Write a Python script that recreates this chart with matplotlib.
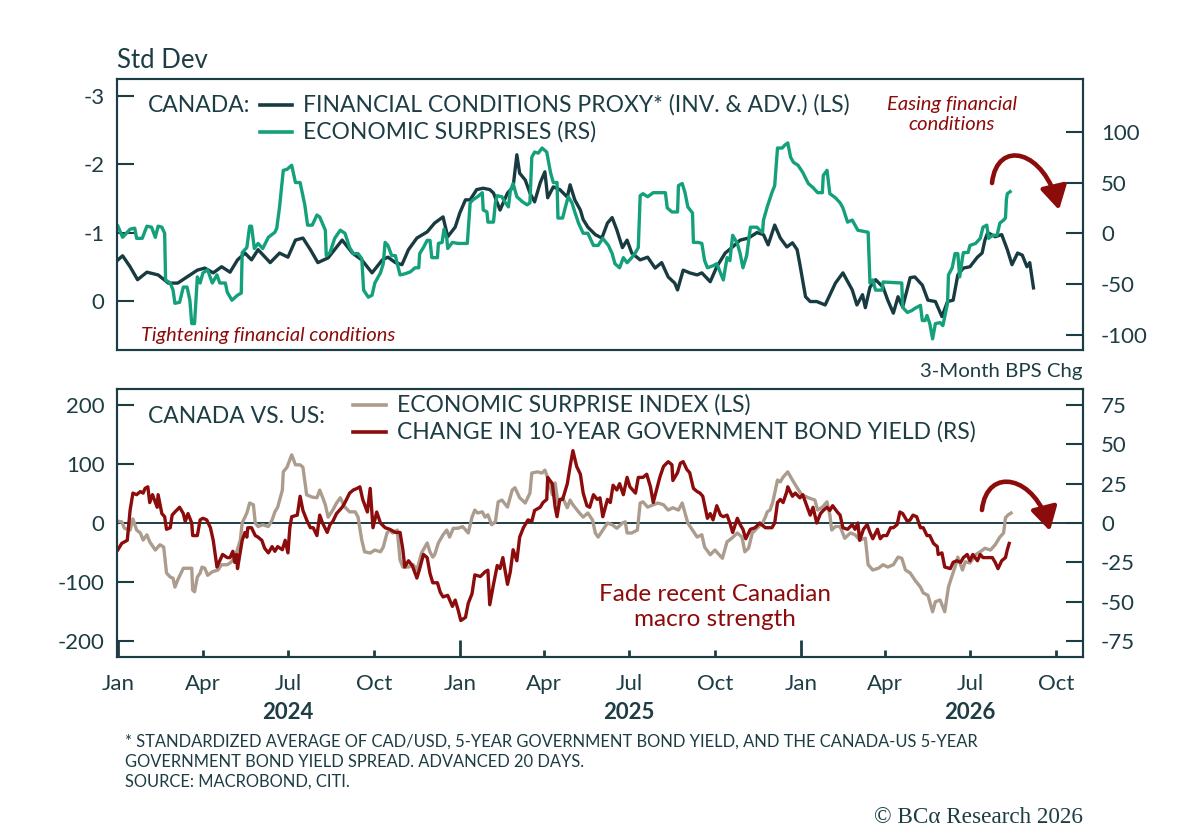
import matplotlib
matplotlib.use('Agg')
import matplotlib.pyplot as plt
import matplotlib.dates as mdates
from matplotlib.patches import FancyArrowPatch
from matplotlib.path import Path
from matplotlib.lines import Line2D
import pandas as pd

plt.rcParams['font.family'] = ['Lato', 'DejaVu Sans']
plt.rcParams['axes.unicode_minus'] = False

# ---------------- DATA ----------------
# Top panel, left scale (inverted): financial conditions proxy, std dev
fci_dates = [
    "2024-01-01", "2024-01-06", "2024-01-14", "2024-01-22", "2024-02-01", "2024-02-13", "2024-02-24",
    "2024-03-05", "2024-03-15", "2024-03-26", "2024-04-03", "2024-04-12", "2024-04-21", "2024-04-30",
    "2024-05-08", "2024-05-16", "2024-05-23", "2024-05-30", "2024-06-12", "2024-06-22", "2024-07-01",
    "2024-07-09", "2024-07-17", "2024-07-25", "2024-08-02", "2024-08-13", "2024-08-28", "2024-09-08",
    "2024-09-18", "2024-09-29", "2024-10-10", "2024-10-16", "2024-10-24", "2024-10-31", "2024-11-07",
    "2024-11-16", "2024-11-27", "2024-12-05", "2024-12-14", "2024-12-19", "2024-12-27", "2025-01-01",
    "2025-01-07", "2025-01-12", "2025-01-19", "2025-01-26", "2025-02-02", "2025-02-06", "2025-02-13",
    "2025-02-21", "2025-02-27", "2025-03-03", "2025-03-06", "2025-03-12", "2025-03-17", "2025-03-22",
    "2025-03-28", "2025-04-02", "2025-04-05", "2025-04-11", "2025-04-18", "2025-04-26", "2025-04-29",
    "2025-05-04", "2025-05-10", "2025-05-13", "2025-05-18", "2025-05-26", "2025-06-02", "2025-06-08",
    "2025-06-13", "2025-06-18", "2025-06-24", "2025-06-29", "2025-07-04", "2025-07-13", "2025-07-21",
    "2025-07-29", "2025-08-05", "2025-08-12", "2025-08-19", "2025-08-22", "2025-08-28", "2025-09-04",
    "2025-09-12", "2025-09-17", "2025-09-26", "2025-10-03", "2025-10-12", "2025-10-20", "2025-10-28",
    "2025-11-06", "2025-11-15", "2025-11-22", "2025-11-27", "2025-12-04", "2025-12-10", "2025-12-17",
    "2025-12-23", "2025-12-28", "2025-12-31", "2026-01-06", "2026-01-11", "2026-01-18", "2026-01-27",
    "2026-02-07", "2026-02-15", "2026-02-25", "2026-03-02", "2026-03-08", "2026-03-11", "2026-03-16",
    "2026-03-22", "2026-03-30", "2026-04-04", "2026-04-10", "2026-04-15", "2026-04-20", "2026-04-28",
    "2026-05-03", "2026-05-11", "2026-05-17", "2026-05-25", "2026-06-01", "2026-06-07", "2026-06-13",
    "2026-06-18", "2026-06-24", "2026-07-01", "2026-07-09", "2026-07-14", "2026-07-17", "2026-07-20",
    "2026-07-28", "2026-08-04", "2026-08-10", "2026-08-15", "2026-08-21", "2026-08-26", "2026-08-31",
    "2026-09-03", "2026-09-07",
]
fci_vals = [
    -0.60, -0.66, -0.50, -0.31, -0.42, -0.38, -0.26,
    -0.26, -0.35, -0.45, -0.48, -0.41, -0.50, -0.42,
    -0.60, -0.70, -0.60, -0.75, -0.56, -0.70, -0.64,
    -0.89, -0.92, -0.75, -0.56, -0.63, -0.89, -0.70,
    -0.60, -0.41, -0.60, -0.64, -0.56, -0.53, -0.75,
    -0.92, -1.01, -1.14, -1.23, -0.94, -1.08, -1.29,
    -1.48, -1.48, -1.63, -1.65, -1.63, -1.58, -1.33,
    -1.58, -1.67, -2.14, -1.87, -1.77, -1.58, -1.45,
    -1.73, -1.89, -1.51, -1.67, -1.63, -1.52, -1.70,
    -1.48, -1.33, -1.19, -1.08, -0.97, -0.92, -1.14,
    -1.22, -1.04, -0.78, -0.89, -0.70, -0.60, -0.64,
    -0.48, -0.56, -0.35, -0.26, -0.16, -0.45, -0.41,
    -0.38, -0.41, -0.28, -0.50, -0.70, -0.79, -0.89,
    -0.92, -1.00, -0.97, -0.82, -1.11, -0.92, -0.79,
    -0.85, -0.75, -0.53, -0.06, 0.01, 0.01, 0.06,
    -0.26, -0.41, -0.16, 0.06, -0.09, 0.10, -0.20,
    -0.31, -0.20, -0.01, 0.18, -0.06, 0.09, -0.34,
    -0.35, -0.23, -0.01, 0.01, 0.23, 0.01, -0.01,
    -0.38, -0.48, -0.50, -0.64, -0.70, -0.89, -1.00,
    -0.94, -0.97, -0.75, -0.53, -0.70, -0.67, -0.50,
    -0.56, -0.19,
]

# Top panel, right scale: Canada economic surprises
es_dates = [
    "2024-01-01", "2024-01-06", "2024-01-14", "2024-01-19", "2024-01-21", "2024-01-27", "2024-02-01",
    "2024-02-06", "2024-02-10", "2024-02-13", "2024-02-17", "2024-02-20", "2024-02-21", "2024-02-26",
    "2024-02-29", "2024-03-02", "2024-03-07", "2024-03-11", "2024-03-15", "2024-03-18", "2024-03-20",
    "2024-03-23", "2024-03-26", "2024-03-29", "2024-04-01", "2024-04-06", "2024-04-11", "2024-04-16",
    "2024-04-19", "2024-04-25", "2024-04-27", "2024-05-02", "2024-05-08", "2024-05-12", "2024-05-13",
    "2024-05-18", "2024-05-21", "2024-05-23", "2024-05-26", "2024-05-30", "2024-06-04", "2024-06-10",
    "2024-06-17", "2024-06-19", "2024-06-22", "2024-06-26", "2024-06-30", "2024-07-05", "2024-07-09",
    "2024-07-14", "2024-07-19", "2024-07-22", "2024-07-27", "2024-08-01", "2024-08-04", "2024-08-10",
    "2024-08-11", "2024-08-15", "2024-08-20", "2024-08-26", "2024-08-31", "2024-09-05", "2024-09-09",
    "2024-09-14", "2024-09-18", "2024-09-20", "2024-09-25", "2024-09-29", "2024-10-02", "2024-10-08",
    "2024-10-11", "2024-10-13", "2024-10-16", "2024-10-20", "2024-10-24", "2024-10-26", "2024-10-29",
    "2024-11-03", "2024-11-09", "2024-11-14", "2024-11-18", "2024-11-19", "2024-11-23", "2024-11-27",
    "2024-11-30", "2024-12-02", "2024-12-08", "2024-12-09", "2024-12-13", "2024-12-15", "2024-12-18",
    "2024-12-19", "2024-12-24", "2024-12-30", "2025-01-09", "2025-01-12", "2025-01-15", "2025-01-20",
    "2025-01-25", "2025-01-26", "2025-01-30", "2025-01-31", "2025-02-06", "2025-02-08", "2025-02-10",
    "2025-02-15", "2025-02-18", "2025-02-22", "2025-02-24", "2025-02-27", "2025-03-03", "2025-03-09",
    "2025-03-14", "2025-03-17", "2025-03-19", "2025-03-22", "2025-03-26", "2025-03-30", "2025-04-04",
    "2025-04-08", "2025-04-11", "2025-04-15", "2025-04-16", "2025-04-21", "2025-04-24", "2025-04-27",
    "2025-05-01", "2025-05-04", "2025-05-08", "2025-05-13", "2025-05-18", "2025-05-24", "2025-05-29",
    "2025-06-03", "2025-06-09", "2025-06-13", "2025-06-16", "2025-06-21", "2025-06-25", "2025-06-29",
    "2025-07-04", "2025-07-08", "2025-07-11", "2025-07-13", "2025-07-16", "2025-07-21", "2025-07-27",
    "2025-08-09", "2025-08-11", "2025-08-16", "2025-08-22", "2025-08-23", "2025-08-27", "2025-08-30",
    "2025-09-02", "2025-09-07", "2025-09-08", "2025-09-13", "2025-09-17", "2025-09-20", "2025-09-23",
    "2025-09-29", "2025-10-03", "2025-10-07", "2025-10-10", "2025-10-14", "2025-10-17", "2025-10-20",
    "2025-10-25", "2025-10-28", "2025-10-31", "2025-11-04", "2025-11-08", "2025-11-15", "2025-11-18",
    "2025-11-21", "2025-11-22", "2025-11-26", "2025-12-01", "2025-12-04", "2025-12-07", "2025-12-12",
    "2025-12-15", "2025-12-18", "2025-12-21", "2025-12-24", "2025-12-29", "2026-01-03", "2026-01-09",
    "2026-01-14", "2026-01-19", "2026-01-24", "2026-01-25", "2026-01-29", "2026-02-01", "2026-02-07",
    "2026-02-12", "2026-02-15", "2026-02-20", "2026-02-25", "2026-02-28", "2026-03-03", "2026-03-14",
    "2026-03-16", "2026-03-19", "2026-03-22", "2026-03-29", "2026-03-30", "2026-04-19", "2026-04-20",
    "2026-04-25", "2026-04-30", "2026-05-03", "2026-05-09", "2026-05-11", "2026-05-14", "2026-05-16",
    "2026-05-19", "2026-05-22", "2026-05-25", "2026-05-30", "2026-06-02", "2026-06-07", "2026-06-08",
    "2026-06-12", "2026-06-15", "2026-06-18", "2026-06-20", "2026-06-23", "2026-06-24", "2026-06-29",
    "2026-07-01", "2026-07-07", "2026-07-12", "2026-07-15", "2026-07-19", "2026-07-21", "2026-07-25",
    "2026-07-30", "2026-08-02", "2026-08-06", "2026-08-08", "2026-08-09", "2026-08-10", "2026-08-13",
]
es_vals = [
    7, -4, 4, 5, -5, -5, 7,
    6, -4, 7, 6, 0, -46, -49,
    -56, -69, -68, -53, -53, -66, -89,
    -89, -43, -49, -39, -36, -49, -41,
    -49, -49, -58, -66, -61, -59, -19,
    -14, 7, 7, -15, -10, -15, -4,
    1, 5, 26, 62, 63, 67, 50,
    50, 28, 8, 8, 18, 16, 3,
    -22, -19, -5, 3, 0, -14, -20,
    -20, -25, -56, -63, -61, -49, -39,
    -30, -9, -12, -22, -22, -30, -41,
    -40, -38, -34, -34, -20, -14, -7,
    -7, -24, -24, -10, -9, 4, -5,
    -15, -9, -10, -10, 30, 33, 36,
    40, 23, 21, 11, 11, 30, 37,
    36, 31, 26, 42, 49, 36, 31,
    28, 30, 75, 80, 79, 84, 80,
    60, 50, 50, 15, 15, 26, 36,
    30, 21, 10, 0, 0, -12, -12,
    -5, -12, -20, -30, -34, -24, -29,
    -24, -19, -14, 37, 39, 36, 40,
    40, 25, 21, 21, 47, 49, 40,
    26, 20, -9, -9, -10, -27, -34,
    -32, -30, -39, -46, -24, -27, -2,
    -10, -20, -34, -22, 6, 6, 3,
    1, 13, 26, 40, 47, 84, 84,
    87, 89, 75, 70, 67, 60, 49,
    45, 40, 40, 57, 62, 39, 35,
    30, 25, 11, 13, 8, 3, 1,
    -49, -46, -56, -56, -48, -49, -73,
    -78, -76, -74, -71, -86, -86, -81,
    -89, -104, -89, -88, -91, -69, -41,
    -34, -20, -20, -43, -24, -19, -19,
    -12, -10, -5, 6, 8, -5, -2,
    -2, 10, 13, 15, 33, 39, 41,
]

# Bottom panel, left scale: Canada vs US economic surprise index
esi_dates = [
    "2024-01-01", "2024-01-05", "2024-01-08", "2024-01-14", "2024-01-17", "2024-01-21", "2024-01-25",
    "2024-01-28", "2024-02-01", "2024-02-04", "2024-02-10", "2024-02-15", "2024-02-19", "2024-02-22",
    "2024-02-26", "2024-02-29", "2024-03-02", "2024-03-05", "2024-03-11", "2024-03-20", "2024-03-21",
    "2024-03-23", "2024-03-26", "2024-03-29", "2024-03-31", "2024-04-03", "2024-04-06", "2024-04-11",
    "2024-04-17", "2024-04-21", "2024-04-27", "2024-04-30", "2024-05-05", "2024-05-11", "2024-05-13",
    "2024-05-18", "2024-05-21", "2024-05-25", "2024-05-27", "2024-05-30", "2024-06-04", "2024-06-10",
    "2024-06-14", "2024-06-17", "2024-06-20", "2024-06-25", "2024-06-26", "2024-06-30", "2024-07-05",
    "2024-07-09", "2024-07-14", "2024-07-17", "2024-07-21", "2024-07-27", "2024-08-01", "2024-08-04",
    "2024-08-07", "2024-08-10", "2024-08-13", "2024-08-18", "2024-08-22", "2024-08-26", "2024-08-31",
    "2024-09-05", "2024-09-11", "2024-09-14", "2024-09-18", "2024-09-21", "2024-09-27", "2024-10-02",
    "2024-10-08", "2024-10-11", "2024-10-15", "2024-10-18", "2024-10-21", "2024-10-26", "2024-10-29",
    "2024-11-01", "2024-11-07", "2024-11-12", "2024-11-16", "2024-11-21", "2024-11-27", "2024-11-30",
    "2024-12-03", "2024-12-05", "2024-12-09", "2024-12-14", "2024-12-18", "2024-12-21", "2024-12-25",
    "2024-12-30", "2025-01-04", "2025-01-10", "2025-01-14", "2025-01-17", "2025-01-20", "2025-01-25",
    "2025-01-28", "2025-01-31", "2025-02-04", "2025-02-08", "2025-02-11", "2025-02-15", "2025-02-21",
    "2025-02-26", "2025-03-01", "2025-03-06", "2025-03-12", "2025-03-17", "2025-03-19", "2025-03-25",
    "2025-03-30", "2025-04-02", "2025-04-05", "2025-04-10", "2025-04-13", "2025-04-16", "2025-04-21",
    "2025-04-26", "2025-04-29", "2025-05-02", "2025-05-08", "2025-05-13", "2025-05-18", "2025-05-23",
    "2025-05-26", "2025-05-29", "2025-06-03", "2025-06-08", "2025-06-13", "2025-06-18", "2025-06-24",
    "2025-06-27", "2025-06-29", "2025-07-04", "2025-07-10", "2025-07-13", "2025-07-16", "2025-07-21",
    "2025-07-27", "2025-08-01", "2025-08-07", "2025-08-12", "2025-08-17", "2025-08-23", "2025-08-27",
    "2025-08-30", "2025-09-02", "2025-09-07", "2025-09-12", "2025-09-17", "2025-09-20", "2025-09-26",
    "2025-10-01", "2025-10-09", "2025-10-14", "2025-10-19", "2025-10-25", "2025-10-30", "2025-11-02",
    "2025-11-06", "2025-11-10", "2025-11-15", "2025-11-21", "2025-11-24", "2025-11-26", "2025-11-29",
    "2025-12-02", "2025-12-07", "2025-12-10", "2025-12-13", "2025-12-18", "2025-12-23", "2025-12-28",
    "2026-01-02", "2026-01-09", "2026-01-16", "2026-01-19", "2026-01-24", "2026-01-29", "2026-02-01",
    "2026-02-03", "2026-02-07", "2026-02-12", "2026-02-17", "2026-02-23", "2026-02-28", "2026-03-05",
    "2026-03-11", "2026-03-14", "2026-03-19", "2026-03-25", "2026-03-30", "2026-04-04", "2026-04-10",
    "2026-04-15", "2026-04-19", "2026-04-23", "2026-04-28", "2026-05-03", "2026-05-09", "2026-05-12",
    "2026-05-17", "2026-05-22", "2026-05-25", "2026-05-30", "2026-06-04", "2026-06-08", "2026-06-12",
    "2026-06-15", "2026-06-18", "2026-06-23", "2026-06-26", "2026-07-01", "2026-07-07", "2026-07-12",
    "2026-07-17", "2026-07-23", "2026-07-28", "2026-08-02", "2026-08-06", "2026-08-08", "2026-08-11",
    "2026-08-14",
]
esi_vals = [
    3, 2, -9, -12, 7, -12, -17,
    -29, -20, -32, -46, -37, -41, -85,
    -92, -94, -109, -97, -77, -77, -114,
    -117, -92, -85, -75, -77, -89, -83,
    -80, -71, -71, -68, -60, -29, 0,
    17, 34, 31, 0, -6, -3, -6,
    5, 19, 27, 56, 87, 95, 116,
    99, 99, 95, 48, 44, 43, 56,
    44, 31, 10, 22, 34, 43, 27,
    19, 19, 10, -29, -49, -51, -46,
    -49, -41, -17, -12, -17, -12, -63,
    -75, -75, -71, -80, -51, -34, -49,
    -58, -54, -34, -20, -12, -24, -9,
    -9, -6, -17, 10, 22, 17, 19,
    10, 14, -3, 2, 36, 39, 27,
    56, 60, 43, 34, 51, 85, 87,
    85, 90, 77, 48, 68, 34, 43,
    26, 39, 31, 19, 10, 17, 5,
    -17, -24, -12, 0, -3, -9, 0,
    2, -17, -17, -12, 34, 36, 27,
    31, 34, 31, 22, 26, 22, 34,
    17, 0, -12, -24, -20, -41, -54,
    -46, -60, -32, -26, -17, -24, -49,
    -43, -17, -9, 0, 10, 19, 22,
    36, 73, 70, 78, 87, 73, 60,
    48, 43, 39, 22, 27, 36, 14,
    -12, -6, -6, -26, -17, -20, -29,
    -26, -71, -80, -77, -71, -75, -71,
    -58, -60, -80, -85, -97, -109, -119,
    -123, -151, -134, -131, -151, -109, -89,
    -75, -58, -80, -66, -68, -54, -49,
    -43, -46, -37, -24, -17, 9, 14,
    17,
]

# Bottom panel, right scale: Canada minus US change in 10-year yield (3-month bps chg)
bond_dates = [
    "2024-01-01", "2024-01-05", "2024-01-11", "2024-01-14", "2024-01-17", "2024-01-21", "2024-01-25",
    "2024-01-28", "2024-01-30", "2024-02-02", "2024-02-04", "2024-02-07", "2024-02-12", "2024-02-13",
    "2024-02-17", "2024-02-20", "2024-02-22", "2024-02-26", "2024-02-28", "2024-03-02", "2024-03-07",
    "2024-03-11", "2024-03-13", "2024-03-16", "2024-03-20", "2024-03-21", "2024-03-26", "2024-03-29",
    "2024-04-01", "2024-04-05", "2024-04-09", "2024-04-12", "2024-04-16", "2024-04-19", "2024-04-22",
    "2024-04-27", "2024-04-30", "2024-05-03", "2024-05-05", "2024-05-07", "2024-05-08", "2024-05-13",
    "2024-05-16", "2024-05-18", "2024-05-19", "2024-05-23", "2024-05-27", "2024-05-30", "2024-06-03",
    "2024-06-06", "2024-06-10", "2024-06-14", "2024-06-17", "2024-06-20", "2024-06-25", "2024-06-28",
    "2024-07-01", "2024-07-03", "2024-07-05", "2024-07-11", "2024-07-14", "2024-07-17", "2024-07-21",
    "2024-07-25", "2024-07-28", "2024-08-01", "2024-08-04", "2024-08-07", "2024-08-12", "2024-08-15",
    "2024-08-18", "2024-08-22", "2024-08-28", "2024-08-31", "2024-09-05", "2024-09-09", "2024-09-13",
    "2024-09-16", "2024-09-19", "2024-09-24", "2024-09-27", "2024-09-30", "2024-10-04", "2024-10-08",
    "2024-10-13", "2024-10-18", "2024-10-24", "2024-10-29", "2024-11-01", "2024-11-03", "2024-11-07",
    "2024-11-11", "2024-11-16", "2024-11-19", "2024-11-23", "2024-11-27", "2024-11-30", "2024-12-03",
    "2024-12-08", "2024-12-11", "2024-12-14", "2024-12-19", "2024-12-24", "2024-12-27", "2024-12-30",
    "2025-01-02", "2025-01-07", "2025-01-10", "2025-01-14", "2025-01-17", "2025-01-23", "2025-01-28",
    "2025-01-31", "2025-02-02", "2025-02-06", "2025-02-10", "2025-02-13", "2025-02-16", "2025-02-21",
    "2025-02-24", "2025-02-27", "2025-03-03", "2025-03-06", "2025-03-10", "2025-03-15", "2025-03-19",
    "2025-03-22", "2025-03-28", "2025-03-31", "2025-04-04", "2025-04-05", "2025-04-10", "2025-04-13",
    "2025-04-15", "2025-04-18", "2025-04-21", "2025-04-26", "2025-04-29", "2025-05-02", "2025-05-06",
    "2025-05-10", "2025-05-13", "2025-05-17", "2025-05-20", "2025-05-24", "2025-05-28", "2025-05-31",
    "2025-06-03", "2025-06-08", "2025-06-11", "2025-06-14", "2025-06-18", "2025-06-21", "2025-06-25",
    "2025-06-29", "2025-07-02", "2025-07-08", "2025-07-11", "2025-07-16", "2025-07-20", "2025-07-24",
    "2025-07-27", "2025-07-31", "2025-08-03", "2025-08-07", "2025-08-12", "2025-08-16", "2025-08-17",
    "2025-08-22", "2025-08-25", "2025-08-28", "2025-09-01", "2025-09-04", "2025-09-08", "2025-09-12",
    "2025-09-15", "2025-09-18", "2025-09-23", "2025-09-26", "2025-09-29", "2025-10-03", "2025-10-07",
    "2025-10-10", "2025-10-14", "2025-10-17", "2025-10-20", "2025-10-25", "2025-10-28", "2025-10-31",
    "2025-11-03", "2025-11-08", "2025-11-13", "2025-11-18", "2025-11-24", "2025-12-01", "2025-12-04",
    "2025-12-07", "2025-12-10", "2025-12-13", "2025-12-17", "2025-12-18", "2025-12-23", "2025-12-26",
    "2025-12-31", "2026-01-03", "2026-01-08", "2026-01-11", "2026-01-14", "2026-01-18", "2026-01-22",
    "2026-01-25", "2026-01-29", "2026-02-01", "2026-02-04", "2026-02-09", "2026-02-12", "2026-02-15",
    "2026-02-20", "2026-02-25", "2026-02-28", "2026-03-03", "2026-03-05", "2026-03-09", "2026-03-13",
    "2026-03-16", "2026-03-19", "2026-03-24", "2026-03-27", "2026-03-30", "2026-04-03", "2026-04-07",
    "2026-04-10", "2026-04-14", "2026-04-17", "2026-04-20", "2026-04-25", "2026-04-28", "2026-05-01",
    "2026-05-05", "2026-05-09", "2026-05-12", "2026-05-16", "2026-05-19", "2026-05-23", "2026-05-27",
    "2026-05-28", "2026-06-01", "2026-06-04", "2026-06-10", "2026-06-13", "2026-06-17", "2026-06-21",
    "2026-06-24", "2026-06-28", "2026-07-01", "2026-07-04", "2026-07-09", "2026-07-12", "2026-07-15",
    "2026-07-19", "2026-07-25", "2026-07-28", "2026-07-31", "2026-08-04", "2026-08-08", "2026-08-10",
    "2026-08-12",
]
bond_vals = [
    -17, -13, -11, 8, 19, 18, 20,
    19, 22, 23, 13, 18, 10, 18,
    6, 4, -4, -3, 5, 7, 10,
    6, 1, 6, 0, -8, -8, 2,
    3, 2, -3, -11, -28, -24, -20,
    -22, -22, -18, -25, -20, -29, -11,
    -6, -9, -3, -3, -8, -9, -11,
    -16, -19, -15, -18, -15, -17, -11,
    -19, -3, 4, 5, 17, 8, 2,
    -3, -3, -8, 5, 0, -6, -1,
    1, 6, 10, 13, 19, 21, 22,
    23, 15, 7, 22, -3, 7, 0,
    -3, -4, -6, -6, -17, -28, -24,
    -27, -35, -29, -20, -22, -32, -38,
    -38, -44, -47, -46, -53, -49, -55,
    -62, -60, -51, -45, -33, -34, -31,
    -30, -52, -39, -27, -29, -22, -39,
    -31, -17, -24, -9, -3, 2, 1,
    8, 10, 13, 15, 29, 25, 10,
    4, 15, 15, 25, 36, 46, 36,
    31, 19, 11, 10, 18, 15, 16,
    4, 15, 13, 24, 21, 25, 18,
    29, 23, 19, 29, 29, 31, 23,
    13, 22, 29, 36, 39, 37, 27,
    32, 38, 39, 34, 32, 22, 20,
    19, 17, 3, 6, 2, 11, 5,
    4, 5, 0, -6, 3, -1, -4,
    -10, -4, -3, 0, -3, -3, 0,
    13, 15, 13, 20, 23, 17, 19,
    16, 18, 10, 5, 10, 0, 6,
    8, 10, 8, 11, 7, 5, -3,
    -4, -1, -4, 0, -11, -4, -1,
    -6, -10, -4, -10, -8, -8, -3,
    -3, -1, 7, 6, 1, 2, 5,
    4, -3, -3, -8, -8, -13, -15,
    -20, -19, -28, -29, -25, -24, -25,
    -22, -20, -24, -20, -24, -20, -22,
    -22, -22, -25, -29, -24, -22, -17,
    -13,
]

top_left_ticks = [-3, -2, -1, 0]
top_right_ticks = [-100, -50, 0, 50, 100]
bot_left_ticks = [-200, -100, 0, 100, 200]
bot_right_ticks = [-75, -50, -25, 0, 25, 50, 75]
year_labels = [2024, 2025, 2026]

# ---------------- STYLE ----------------
TEXT = '#1d3d44'
C_FCI = '#173b41'
C_ES = '#14a07b'
C_ESI = '#ab9c8d'
C_BOND = '#8c0b0b'
C_ANN = '#8c0b0b'
LW = 2.4
TICK_FS = 16

fig = plt.figure(figsize=(12, 8.3), dpi=100)
ax1 = fig.add_axes([117/1200, 1-350/830, 966/1200, 271/830])
ax1r = ax1.twinx()
ax2 = fig.add_axes([117/1200, 1-657/830, 966/1200, 268/830])
ax2r = ax2.twinx()

ax1.plot(pd.to_datetime(fci_dates), fci_vals, color=C_FCI, lw=LW, solid_joinstyle='round')
ax1r.plot(pd.to_datetime(es_dates), es_vals, color=C_ES, lw=LW, solid_joinstyle='round')
ax2.axhline(0, color=TEXT, lw=1.4, zorder=1)
ax2.plot(pd.to_datetime(esi_dates), esi_vals, color=C_ESI, lw=LW, solid_joinstyle='round', zorder=2)
ax2r.plot(pd.to_datetime(bond_dates), bond_vals, color=C_BOND, lw=LW, solid_joinstyle='round')

xmin, xmax = pd.Timestamp('2023-12-31'), pd.Timestamp('2026-10-30')
for a in (ax1, ax1r, ax2, ax2r):
    a.set_xlim(xmin, xmax)
    for s in a.spines.values():
        s.set_color(TEXT)
        s.set_linewidth(1.5)

ax1.set_ylim(0.72, -3.25)
ax1.set_yticks(top_left_ticks)
ax1.set_yticklabels([str(t) for t in top_left_ticks])
ax1r.set_ylim(-115, 152)
ax1r.set_yticks(top_right_ticks)
ax1r.set_yticklabels([str(t) for t in top_right_ticks])
ax2.set_ylim(-228, 228)
ax2.set_yticks(bot_left_ticks)
ax2.set_yticklabels([str(t) for t in bot_left_ticks])
ax2r.set_ylim(-85.2, 85.2)
ax2r.set_yticks(bot_right_ticks)
ax2r.set_yticklabels([str(t) for t in bot_right_ticks])

for a in (ax1, ax2):
    a.tick_params(axis='y', direction='in', length=12, width=1.5, color=TEXT,
                  labelcolor=TEXT, labelsize=TICK_FS, pad=9)
for a in (ax1r, ax2r):
    a.tick_params(axis='y', direction='in', length=12, width=1.5, color=TEXT,
                  labelcolor=TEXT, labelsize=TICK_FS, pad=13)

ax1.tick_params(axis='x', which='both', bottom=False, labelbottom=False)
ax2.xaxis.set_major_locator(mdates.MonthLocator(bymonth=[1]))
ax2.xaxis.set_minor_locator(mdates.MonthLocator(bymonth=[4, 7, 10]))
ax2.xaxis.set_major_formatter(mdates.DateFormatter('%b'))
ax2.xaxis.set_minor_formatter(mdates.DateFormatter('%b'))
ax2.tick_params(axis='x', which='major', direction='in', length=12, width=2, color=TEXT,
                labelcolor=TEXT, labelsize=TICK_FS, pad=12)
ax2.tick_params(axis='x', which='minor', direction='in', length=5, width=2, color=TEXT,
                labelcolor=TEXT, labelsize=TICK_FS, pad=12)

for yr in year_labels:
    ax2.annotate(str(yr), xy=(pd.Timestamp(f'{yr}-07-01'), 0), xycoords=('data', 'axes fraction'),
                 xytext=(0, -55), textcoords='offset pixels', ha='center', va='center',
                 fontsize=TICK_FS, fontweight='bold', color=TEXT)

# ---------------- LEGENDS / TEXT ----------------
LEG_FS = 16.5
ax1.text(0.032, 0.904, 'CANADA:', transform=ax1.transAxes, fontsize=LEG_FS, color=TEXT,
         ha='left', va='center')
ax1.add_artist(Line2D([0.148, 0.181], [0.904, 0.904], transform=ax1.transAxes, color=C_FCI, lw=2.6))
ax1.add_artist(Line2D([0.148, 0.181], [0.804, 0.804], transform=ax1.transAxes, color=C_ES, lw=2.6))
ax1.text(0.1925, 0.904, 'FINANCIAL CONDITIONS PROXY* (INV. & ADV.) (LS)', transform=ax1.transAxes,
         fontsize=LEG_FS, color=TEXT, ha='left', va='center')
ax1.text(0.1925, 0.804, 'ECONOMIC SURPRISES (RS)', transform=ax1.transAxes,
         fontsize=LEG_FS, color=TEXT, ha='left', va='center')
ax1.text(0.864, 0.869, 'Easing financial\nconditions', transform=ax1.transAxes, fontsize=14.5,
         style='italic', color=C_ANN, ha='center', va='center', linespacing=1.25)
ax1.text(0.0248, 0.052, 'Tightening financial conditions', transform=ax1.transAxes, fontsize=14.4,
         style='italic', color=C_ANN, ha='left', va='center')

ax2.text(0.032, 0.899, 'CANADA VS. US:', transform=ax2.transAxes, fontsize=LEG_FS, color=TEXT,
         ha='left', va='center')
ax2.add_artist(Line2D([0.244, 0.278], [0.940, 0.940], transform=ax2.transAxes, color=C_ESI, lw=2.6))
ax2.add_artist(Line2D([0.244, 0.278], [0.840, 0.840], transform=ax2.transAxes, color=C_BOND, lw=2.6))
ax2.text(0.290, 0.940, 'ECONOMIC SURPRISE INDEX (LS)', transform=ax2.transAxes,
         fontsize=LEG_FS, color=TEXT, ha='left', va='center')
ax2.text(0.290, 0.840, 'CHANGE IN 10-YEAR GOVERNMENT BOND YIELD (RS)', transform=ax2.transAxes,
         fontsize=LEG_FS, color=TEXT, ha='left', va='center')
ax2.text(0.619, 0.187, 'Fade recent Canadian\nmacro strength', transform=ax2.transAxes,
         fontsize=17.5, color=C_ANN, ha='center', va='center', linespacing=1.25)


def curved_arrow(ax, verts):
    path = Path(verts, [Path.MOVETO, Path.CURVE4, Path.CURVE4, Path.CURVE4])
    arr = FancyArrowPatch(path=path, arrowstyle='-|>,head_length=14,head_width=8',
                          mutation_scale=1, lw=3.3, color=C_ANN, transform=ax.transAxes,
                          shrinkA=0, shrinkB=0, clip_on=False, zorder=5)
    ax.add_artist(arr)


curved_arrow(ax1r, [(0.9058, 0.6162), (0.9110, 0.7823), (0.9607, 0.7380), (0.9752, 0.5166)])
curved_arrow(ax2r, [(0.8954, 0.5485), (0.9006, 0.7164), (0.9513, 0.6754), (0.9658, 0.4701)])

fig.text(117/1200, 1-60/830, 'Std Dev', fontsize=18.5, color=TEXT, ha='left', va='center')
fig.text(1083/1200, 1-371/830, '3-Month BPS Chg', fontsize=14.7, color=TEXT, ha='right', va='center')

foot = ('* STANDARDIZED AVERAGE OF CAD/USD, 5-YEAR GOVERNMENT BOND YIELD, AND THE CANADA-US 5-YEAR\n'
        'GOVERNMENT BOND YIELD SPREAD. ADVANCED 20 DAYS.\n'
        'SOURCE: MACROBOND, CITI.')
fig.text(125/1200, 1-734/830, foot, fontsize=11.9, color=TEXT, ha='left', va='top', linespacing=1.3)
fig.text(1083/1200, 1-817/830, '\u00a9 BC\u03b1 Research 2026', fontsize=16.7, color=TEXT,
         family=['Liberation Serif', 'DejaVu Serif'], ha='right', va='center')

fig.savefig('out.png', dpi=100)
